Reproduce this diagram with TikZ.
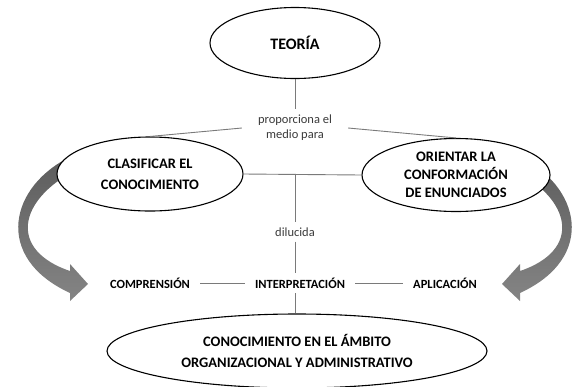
\documentclass[tikz,border=0pt]{standalone}
\usepackage{fontspec}
\setmainfont{Carlito}
\usetikzlibrary{shapes.geometric}
\definecolor{linegray}{HTML}{7A7A7A}
\definecolor{textgray}{HTML}{3A3A3A}
\colorlet{arrowtop}{black!64}
\colorlet{arrowbot}{black!48}
% curved band with its head, drawn in pixel units
\newcommand{\bendarrow}{%
  \shade[top color=arrowtop, bottom color=arrowbot]
    (72,156) .. controls (10,185) and (-8,257) .. (70,293)
    -- (70,301) -- (88,284) -- (70,264) -- (70,271)
    .. controls (8,250) and (18,200) .. (76,170) -- cycle;}

\begin{document}
\begin{tikzpicture}[x=1pt, y=-1pt,
  idea/.style={ellipse, draw=black, line width=1.1pt, fill=white, inner sep=0pt,
    align=center, font=\bfseries\fontsize{14.5}{19}\selectfont},
  verb/.style={align=center, text=textgray, inner xsep=16pt, inner ysep=6pt,
    font=\fontsize{12.5}{15}\selectfont},
  stage/.style={inner xsep=10pt, inner ysep=5pt, font=\bfseries\fontsize{12.5}{15}\selectfont},
  link/.style={draw=linegray, line width=0.9pt}]
  \useasboundingbox (0,0) rectangle (577,386);

  % side arrows behind the ellipses
  \bendarrow
  \begin{scope}[shift={(590,0)}, xscale=-1]
    \bendarrow
  \end{scope}

  \node[idea, minimum width=170pt, minimum height=71pt, font=\bfseries\fontsize{16}{19}\selectfont]
    (teoria) at (295,43) {TEORÍA};
  \node[verb] (prop) at (295,128) {proporciona el\\medio para};
  \node[idea, minimum width=186pt, minimum height=74pt, font=\bfseries\fontsize{14.5}{21}\selectfont]
    (clas) at (150,174) {CLASIFICAR EL\\CONOCIMIENTO};
  \node[idea, minimum width=188pt, minimum height=73pt, font=\bfseries\fontsize{14.5}{18}\selectfont]
    (orient) at (456,175) {ORIENTAR LA\\CONFORMACIÓN\\DE ENUNCIADOS};
  \node[verb, inner ysep=5pt] (dil) at (295,232) {dilucida};
  \node[stage] (comp) at (150,283) {COMPRENSIÓN};
  \node[stage] (interp) at (300,283) {INTERPRETACIÓN};
  \node[stage] (apl) at (445,283) {APLICACIÓN};
  \node[idea, minimum width=380pt, minimum height=74pt, font=\bfseries\fontsize{14.5}{21}\selectfont]
    (conoc) at (297,351) {CONOCIMIENTO EN EL ÁMBITO\\ORGANIZACIONAL Y ADMINISTRATIVO};

  \draw[link] (teoria) -- (prop);
  \draw[link] (prop.west) -- (clas.north);
  \draw[link] (prop.east) -- (orient.north);
  \draw[link] (clas.east) -- (orient.west);
  \draw[link] (dil |- clas.east) -- (dil);
  \draw[link] (dil) -- (dil |- interp.north);
  \draw[link] (comp) -- (interp);
  \draw[link] (interp) -- (apl);
  \draw[link] (dil |- interp.south) -- (dil |- conoc.north);
\end{tikzpicture}
\end{document}
